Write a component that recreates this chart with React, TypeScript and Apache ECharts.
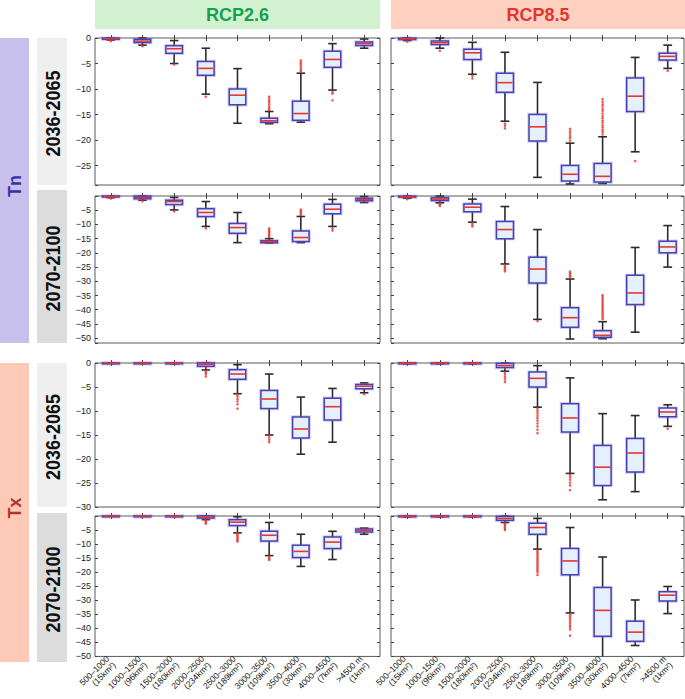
import React, { useEffect, useRef } from 'react';
import * as echarts from 'echarts';

// ---------- categories ----------
const bands = ['500–1000', '1000–1500', '1500–2000', '2000–2500', '2500–3000', '3000–3500', '3500–4000', '4000–4500', '>4500 m'];
const areas = ['15', '96', '180', '234', '189', '109', '30', '7', '1'];
const rcpNames = ['RCP2.6', 'RCP8.5'];
const periods = ['2036-2065', '2070-2100'];
const variables = ['Tn', 'Tx'];

// ---------- box stats: [min, q1, median, q3, max] ----------
const tn2036Rcp26 = [
  [-0.4, -0.25, -0.12, -0.03, 0], [-1.4, -0.9, -0.6, -0.25, 0], [-5.0, -3.0, -2.1, -1.5, -0.5],
  [-11.0, -7.3, -5.95, -4.6, -2.0], [-16.7, -13.1, -11.2, -10.0, -6.0], [-16.8, -16.5, -16.2, -15.7, -14.4],
  [-16.5, -16.1, -14.8, -12.4, -6.9], [-10.2, -5.75, -4.2, -2.6, -1.1], [-2.0, -1.45, -1.1, -0.8, -0.2],
];
const tn2036Rcp26Out = [
  [-0.6], [-1.6], [-5.2], [-11.5], [],
  [-11.5, -11.9, -12.3, -12.6, -13.0, -13.4, -13.8, -14.1],
  [-4.4, -4.8, -5.1, -5.5, -5.9, -6.3, -6.6],
  [-10.6, -10.9, -12.2], [],
];
const tn2036Rcp85 = [
  [-0.5, -0.3, -0.15, -0.05, 0], [-2.0, -1.25, -0.9, -0.6, 0], [-7.1, -4.2, -2.9, -2.2, -0.85],
  [-16.3, -10.65, -8.75, -6.9, -2.8], [-27.3, -20.2, -17.4, -15.0, -8.7], [-28.6, -28.0, -26.7, -25.0, -20.6],
  [-28.5, -28.2, -27.1, -24.6, -19.35], [-22.3, -14.4, -11.4, -7.85, -3.8], [-5.95, -4.3, -3.6, -3.0, -1.4],
];
const tn2036Rcp85Out = [
  [-0.7], [-2.5], [-7.4, -7.9], [-16.8, -17.2, -17.7], [],
  [-17.8, -18.3, -18.7, -19.2, -19.6, -20.1],
  [-12.0, -12.5, -13.0, -13.4, -13.9, -14.3, -14.8, -15.3, -15.7, -16.2, -16.6, -17.1, -17.5, -18.0, -18.4, -18.9],
  [-24.1], [-6.4],
];
const tn2070Rcp26 = [
  [-0.6, -0.3, -0.2, -0.05, 0], [-1.5, -1.0, -0.55, -0.07, 0], [-4.9, -3.0, -1.95, -1.5, -0.5],
  [-10.7, -7.2, -5.8, -4.5, -1.95], [-16.4, -13.1, -11.1, -9.7, -5.8], [-16.5, -16.4, -16.0, -15.7, -15.0],
  [-16.4, -16.0, -14.6, -12.3, -7.2], [-10.7, -6.2, -4.65, -2.9, -1.2], [-2.3, -1.7, -1.25, -0.8, -0.2],
];
const tn2070Rcp26Out = [
  [-0.9], [-1.8], [-5.4], [-11.4], [],
  [-11.4, -11.9, -12.4, -12.9, -13.4, -13.9, -14.4],
  [-4.75, -5.2, -5.7, -6.2, -6.7],
  [-11.4, -12.1], [],
];
const tn2070Rcp85 = [
  [-0.8, -0.4, -0.3, -0.1, 0], [-2.4, -1.6, -1.1, -0.65, 0], [-9.2, -5.5, -3.95, -2.8, -1.1],
  [-23.9, -15.0, -11.8, -9.0, -3.7], [-43.4, -30.6, -25.7, -21.5, -11.8], [-50.3, -46.2, -42.8, -39.3, -29.2],
  [-50.2, -49.7, -49.0, -47.4, -44.2], [-47.9, -38.2, -34.1, -27.9, -18.1], [-25.0, -20.0, -17.9, -15.9, -10.4],
];
const tn2070Rcp85Out = [
  [-1.1], [-2.7, -3.1, -3.5], [-9.5, -10.1, -10.7], [-24.4, -24.9, -25.4, -25.9, -26.5], [-44.0],
  [-26.6, -27.1, -27.6, -28.1, -28.6],
  [-34.9, -35.5, -36.1, -36.7, -37.3, -37.9, -38.5, -39.1, -39.7, -40.3, -40.9, -41.5, -42.1, -42.7, -43.3],
  [], [],
];
const tx2036Rcp26 = [
  [-0.1, -0.05, -0.02, 0, 0], [-0.1, -0.05, -0.02, 0, 0], [-0.15, -0.05, -0.02, 0, 0],
  [-1.45, -0.7, -0.27, 0, 0], [-6.4, -3.4, -2.3, -1.4, -0.35], [-15.0, -9.5, -7.5, -5.75, -2.3],
  [-19.0, -15.6, -13.75, -11.25, -7.1], [-16.5, -11.9, -9.1, -7.35, -5.3], [-6.2, -5.35, -4.85, -4.5, -4.15],
];
const tx2036Rcp26Out = [
  [], [], [], [-1.7, -2.0, -2.3, -2.8],
  [-6.6, -7.0, -7.5, -8.0, -8.6, -9.5],
  [-15.1, -15.5, -16.0, -16.5], [], [], [-6.5],
];
const tx2036Rcp85 = [
  [-0.15, -0.08, -0.03, 0, 0], [-0.15, -0.08, -0.03, 0, 0], [-0.15, -0.08, -0.03, 0, 0],
  [-1.7, -0.95, -0.55, -0.1, 0], [-9.2, -5.0, -3.2, -1.9, -0.55], [-23.0, -14.4, -11.45, -8.5, -3.1],
  [-28.5, -25.5, -21.7, -17.2, -10.55], [-26.8, -22.7, -18.75, -15.75, -10.95], [-13.2, -11.2, -10.2, -9.4, -8.7],
];
const tx2036Rcp85Out = [
  [], [], [], [-2.0, -2.4, -2.9, -3.4, -3.95],
  [-9.5, -10.0, -10.5, -11.0, -11.5, -12.0, -12.6, -13.2, -13.9, -14.6],
  [-23.3, -23.8, -24.3, -24.9, -25.5, -26.5], [], [], [-13.7],
];
const tx2070Rcp26 = [
  [-0.1, -0.05, -0.02, 0, 0], [-0.1, -0.05, -0.02, 0, 0], [-0.15, -0.05, -0.02, 0, 0],
  [-1.3, -0.7, -0.4, 0, 0], [-6.0, -3.4, -2.2, -1.3, -0.25], [-14.1, -8.9, -6.85, -5.45, -2.3],
  [-17.95, -14.8, -12.6, -10.45, -6.5], [-15.5, -11.6, -9.3, -7.5, -5.45], [-6.5, -5.7, -5.1, -4.65, -4.3],
];
const tx2070Rcp26Out = [
  [], [], [], [-1.5, -1.9, -2.3, -2.7],
  [-6.15, -6.6, -7.1, -7.6, -8.1, -8.6, -9.05],
  [-14.4, -14.9, -15.3, -15.65], [], [], [],
];
const tx2070Rcp85 = [
  [-0.3, -0.2, -0.1, 0, 0], [-0.3, -0.2, -0.1, 0, 0], [-0.3, -0.2, -0.1, 0, 0],
  [-2.3, -1.5, -0.85, -0.15, 0], [-11.8, -6.5, -4.1, -2.6, -0.85], [-34.5, -20.9, -16.0, -11.6, -4.1],
  [-54.0, -42.8, -33.6, -25.5, -14.6], [-46.1, -44.6, -41.35, -37.5, -29.9], [-34.75, -30.3, -28.2, -27.0, -25.1],
];
const tx2070Rcp85Out = [
  [], [], [], [-2.7, -3.1, -3.6, -4.1, -4.6, -5.0],
  [-12.2, -12.8, -13.4, -14.0, -14.6, -15.2, -15.8, -16.4, -17.0, -17.6, -18.2, -18.8, -19.4, -20.0, -21.0],
  [-34.9, -35.5, -36.1, -36.8, -37.5, -38.2, -38.9, -39.6, -40.4, -42.6], [], [], [],
];

// y-axis lower bounds per row
const rowMin = [-28.8, -51.7, -30, -50];
const rowShowZero = [true, false, true, false];

const panels = [
  { row: 0, col: 0, box: tn2036Rcp26, out: tn2036Rcp26Out },
  { row: 0, col: 1, box: tn2036Rcp85, out: tn2036Rcp85Out },
  { row: 1, col: 0, box: tn2070Rcp26, out: tn2070Rcp26Out },
  { row: 1, col: 1, box: tn2070Rcp85, out: tn2070Rcp85Out },
  { row: 2, col: 0, box: tx2036Rcp26, out: tx2036Rcp26Out },
  { row: 2, col: 1, box: tx2036Rcp85, out: tx2036Rcp85Out },
  { row: 3, col: 0, box: tx2070Rcp26, out: tx2070Rcp26Out },
  { row: 3, col: 1, box: tx2070Rcp85, out: tx2070Rcp85Out },
];

// ---------- layout ----------
const rowTop = [38, 196, 363, 516];
const rowHeight = [147, 147, 144, 143.5];
const colLeft = [95, 391];
const colWidth = [285, 293];

const FONT = '"Liberation Sans", Arial, Helvetica, sans-serif';

function renderBox(params: any, api: any) {
  const idx = api.value(0);
  const lo = api.coord([idx, api.value(1)]);
  const q1 = api.coord([idx, api.value(2)]);
  const md = api.coord([idx, api.value(3)]);
  const q3 = api.coord([idx, api.value(4)]);
  const hi = api.coord([idx, api.value(5)]);
  const cs = params.coordSys;
  const top = cs.y;
  const bottom = cs.y + cs.height;
  const band = api.size([1, 0])[0];
  const cx = md[0];
  const bw = band * 0.52;
  const cw = band * 0.27;
  const yLo = Math.min(lo[1], bottom);
  const yHi = Math.max(hi[1], top);
  const wStyle = { stroke: '#2c2c2c', lineWidth: 1.6 };
  const children: any[] = [
    { type: 'line', shape: { x1: cx, y1: q3[1], x2: cx, y2: yHi }, style: wStyle },
    { type: 'line', shape: { x1: cx, y1: q1[1], x2: cx, y2: yLo }, style: wStyle },
    { type: 'line', shape: { x1: cx - cw / 2, y1: yHi, x2: cx + cw / 2, y2: yHi }, style: wStyle },
  ];
  if (lo[1] <= bottom) {
    children.push({ type: 'line', shape: { x1: cx - cw / 2, y1: yLo, x2: cx + cw / 2, y2: yLo }, style: wStyle });
  }
  const h = Math.max(q1[1] - q3[1], 0.8);
  children.push({
    type: 'rect',
    shape: { x: cx - bw / 2, y: q3[1], width: bw, height: h },
    style: { fill: 'none', stroke: 'rgba(120,110,215,0.35)', lineWidth: 3.4 },
  });
  children.push({
    type: 'rect',
    shape: { x: cx - bw / 2, y: q3[1], width: bw, height: h },
    style: { fill: '#e4f0fb', stroke: '#4a40b4', lineWidth: 1.5 },
  });
  children.push({
    type: 'line',
    shape: { x1: cx - bw / 2 + 0.8, y1: md[1], x2: cx + bw / 2 - 0.8, y2: md[1] },
    style: { stroke: '#e8352d', lineWidth: 1.6 },
  });
  return { type: 'group', children };
}

function buildOption() {
  const grid: any[] = [];
  const xAxis: any[] = [];
  const yAxis: any[] = [];
  const series: any[] = [];
  const cats = bands.map((b, i) => `${b}\n(${areas[i]}km²)`);
  const tick = { show: true, inside: true, length: 3, lineStyle: { color: '#444', width: 1 } };

  panels.forEach((p, k) => {
    grid.push({
      left: colLeft[p.col], top: rowTop[p.row], width: colWidth[p.col], height: rowHeight[p.row],
      show: true, borderColor: '#5a5a5a', borderWidth: 1, backgroundColor: '#fff', containLabel: false,
    });
    const isBottom = p.row === 3;
    xAxis.push({
      type: 'category', gridIndex: k, data: cats, boundaryGap: true, position: 'bottom',
      axisLine: { show: false },
      axisTick: { ...tick, alignWithLabel: true, interval: 0 },
      splitLine: { show: false },
      axisLabel: isBottom
        ? { show: true, interval: 0, rotate: 45, fontSize: 8.5, lineHeight: 9, margin: 4, color: '#111', fontFamily: FONT, hideOverlap: false }
        : { show: false },
    });
    xAxis.push({
      type: 'category', gridIndex: k, data: cats, boundaryGap: true, position: 'top',
      axisLine: { show: false },
      axisTick: { ...tick, alignWithLabel: true, interval: 0 },
      splitLine: { show: false },
      axisLabel: { show: false },
    });
    const showZero = rowShowZero[p.row];
    const valAxis = {
      type: 'value', gridIndex: k, min: rowMin[p.row], max: 0, minInterval: 5, maxInterval: 5, splitNumber: 10,
      axisLine: { show: false }, axisTick: tick, splitLine: { show: false },
    };
    yAxis.push({
      ...valAxis, position: 'left',
      axisLabel: p.col === 0
        ? {
            show: true, fontSize: 9, margin: 4, color: '#222', fontFamily: FONT,
            formatter: (v: number) => {
              if (Math.abs(v % 5) > 1e-6) return '';
              if (v === 0) return showZero ? '0' : '';
              return '−' + String(Math.abs(v));
            },
          }
        : { show: false },
    });
    yAxis.push({ ...valAxis, position: 'right', axisLabel: { show: false } });

    series.push({
      type: 'custom', xAxisIndex: 2 * k, yAxisIndex: 2 * k,
      renderItem: renderBox,
      dimensions: ['cat', 'min', 'q1', 'med', 'q3', 'max'],
      encode: { x: 0, y: [1, 2, 3, 4, 5] },
      data: p.box.map((b, i) => [i, ...b]),
      z: 2, silent: true,
    });
    const outData: number[][] = [];
    p.out.forEach((vals, i) => vals.forEach((v) => outData.push([i, v])));
    series.push({
      type: 'scatter', xAxisIndex: 2 * k, yAxisIndex: 2 * k,
      data: outData, symbol: 'circle', symbolSize: 2.6,
      itemStyle: { color: '#e8352d' }, z: 3, silent: true,
    });
  });

  const rowLabelBoxes = [
    { y: 38, h: 147, fill: '#efefef', text: periods[0] },
    { y: 190, h: 153, fill: '#dcdcdc', text: periods[1] },
    { y: 363, h: 144, fill: '#efefef', text: periods[0] },
    { y: 513, h: 149, fill: '#dcdcdc', text: periods[1] },
  ];

  const elements: any[] = [
    { type: 'rect', shape: { x: 95, y: 0, width: 285, height: 29 }, style: { fill: '#d2f1d1' } },
    { type: 'rect', shape: { x: 391, y: 0, width: 294, height: 29 }, style: { fill: '#fdd0c0' } },
    { type: 'text', x: 237.5, y: 15, style: { text: rcpNames[0], fill: '#13a24b', font: `bold 18px ${FONT}`, align: 'center', verticalAlign: 'middle' } },
    { type: 'text', x: 538, y: 15, style: { text: rcpNames[1], fill: '#e4352c', font: `bold 18px ${FONT}`, align: 'center', verticalAlign: 'middle' } },
    { type: 'rect', shape: { x: 0, y: 38, width: 29, height: 305 }, style: { fill: '#c8c0ec' } },
    { type: 'rect', shape: { x: 0, y: 363, width: 29, height: 299 }, style: { fill: '#fdcab7' } },
    { type: 'text', x: 15, y: 186, rotation: Math.PI / 2, style: { text: variables[0], fill: '#3b2fa8', font: `bold 18px ${FONT}`, align: 'center', verticalAlign: 'middle' } },
    { type: 'text', x: 15, y: 508, rotation: Math.PI / 2, style: { text: variables[1], fill: '#b3342a', font: `bold 18px ${FONT}`, align: 'center', verticalAlign: 'middle' } },
  ];
  rowLabelBoxes.forEach((b) => {
    elements.push({ type: 'rect', shape: { x: 37, y: b.y, width: 30, height: b.h }, style: { fill: b.fill } });
    elements.push({
      type: 'text', x: 53, y: b.y + b.h / 2 + 2, rotation: Math.PI / 2, scaleX: 0.9,
      style: { text: b.text, fill: '#111', font: `bold 20px ${FONT}`, align: 'center', verticalAlign: 'middle' },
    });
  });

  return {
    animation: false,
    textStyle: { fontFamily: FONT },
    grid, xAxis, yAxis, series,
    graphic: { elements },
  };
}

export default function App() {
  const ref = useRef<HTMLDivElement>(null);
  useEffect(() => {
    if (!ref.current) return;
    const chart = echarts.init(ref.current, undefined, { renderer: 'svg' });
    chart.setOption(buildOption() as any);
    return () => chart.dispose();
  }, []);
  return <div ref={ref} style={{ position: 'absolute', left: 0, top: 0, width: 685, height: 699, background: '#fff' }} />;
}
